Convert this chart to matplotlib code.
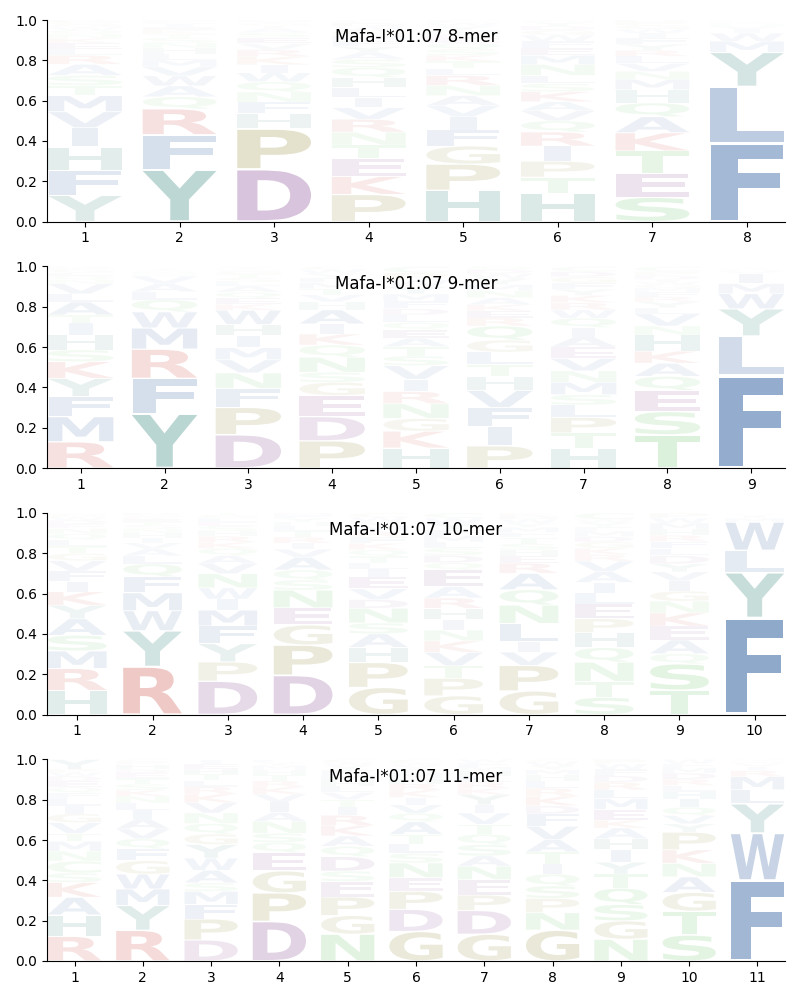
import matplotlib
matplotlib.use('Agg')
import matplotlib.pyplot as plt
from matplotlib.textpath import TextPath
from matplotlib.patches import PathPatch
from matplotlib.font_manager import FontProperties
from matplotlib.transforms import Affine2D
import numpy as np

allele = "Mafa-I*01:07"

# letters listed bottom -> top for each position, frequencies in same order
mer8_letters = [
    "YFHIVMTSARLEKNQWGPD",
    "YFRQAWVMLHNSTKEIGP",
    "DPHFNQWIKRVESATGYM",
    "PKETNRVILHQSAYFMGWDC",
    "HPGFIVANRLTKSQEDMYWC",
    "HTPIRQVAKSLNMEFWGDYC",
    "SETKAQHMNVLRYFIWGPD",
    "FLYMWIVHKRTN",
]
mer8_freqs = [
    [.13, .125, .115, .095, .08, .08, .05, .05, .055, .045, .03, .03, .025, .02, .02, .015, .015, .01, .01],
    [.26, .175, .13, .06, .055, .05, .045, .035, .03, .03, .025, .025, .02, .02, .015, .015, .01, .01],
    [.26, .2, .075, .058, .05, .05, .045, .04, .04, .035, .03, .03, .025, .02, .015, .01, .01, .007],
    [.135, .09, .09, .066, .065, .064, .058, .05, .05, .05, .05, .04, .035, .03, .03, .025, .025, .02, .017, .015],
    [.155, .13, .09, .08, .065, .055, .05, .05, .05, .035, .035, .03, .03, .03, .025, .02, .02, .02, .015, .015],
    [.14, .08, .079, .075, .07, .055, .05, .045, .05, .04, .04, .055, .045, .035, .035, .03, .025, .02, .02, .01],
    [.12, .12, .11, .09, .08, .068, .066, .05, .04, .04, .035, .03, .03, .03, .025, .02, .02, .015, .01],
    [.39, .28, .17, .055, .04, .02, .015, .01, .008, .005, .004, .003],
]

mer9_letters = [
    "RMFYKSHITALVNQEGPD",
    "YFRMWQLAVHNSTKE",
    "DPFNVMIHWKEQALSTGCY",
    "PDEGSNQKIAHVTMFYWC",
    "HKGNRIVSTAEQLDFMYWPC",
    "PIFVHTLGQREKANMYWDS",
    "HTPLSMNVEAIQWRKYFGDC",
    "TSEQAKHNVLYRFMGWIDPC",
    "FLYWMIVHKTRN",
]
mer9_freqs = [
    [.13, .125, .1, .09, .083, .058, .075, .058, .04, .065, .04, .05, .02, .02, .015, .015, .01, .006],
    [.27, .175, .145, .105, .08, .06, .04, .04, .035, .01, .01, .01, .01, .005, .005],
    [.165, .135, .093, .078, .065, .06, .06, .055, .07, .03, .03, .03, .03, .02, .02, .02, .015, .01, .012],
    [.135, .12, .105, .065, .05, .075, .06, .055, .05, .07, .04, .035, .03, .03, .025, .02, .02, .015],
    [.095, .08, .06, .07, .058, .058, .065, .045, .045, .04, .04, .035, .035, .03, .035, .035, .035, .03, .035, .03],
    [.11, .095, .095, .085, .07, .06, .06, .06, .07, .04, .035, .03, .035, .035, .03, .03, .025, .02, .015],
    [.095, .075, .075, .06, .05, .06, .055, .06, .055, .05, .045, .045, .04, .035, .035, .03, .03, .03, .025, .025],
    [.165, .115, .105, .07, .065, .06, .08, .045, .06, .03, .03, .025, .025, .02, .015, .015, .01, .02, .02, .025],
    [.46, .195, .135, .075, .05, .05, .012, .008, .006, .004, .003, .002],
]

mer10_letters = [
    "HRMSAYKIFVGTLQNEDWPC",
    "RYWMFQLAVIHNSTEKGD",
    "DPYFMIWNVAQKRHSELGT",
    "DPGENSQAVIRTLHYFM",
    "GPHASNDVEILTQKFRMYWC",
    "GPTVKNIHRAEQDSLMFYWC",
    "GPVILNQAREHSTFMYWDK",
    "STNQHPELIAVRKGDMFYWC",
    "TSQAEKNGIVYDLFRHMWP",
    "FYLWMIVHKR",
]
mer10_freqs = [
    [.115, .107, .085, .075, .08, .065, .065, .05, .05, .05, .035, .035, .03, .03, .025, .02, .02, .015, .01, .01],
    [.24, .18, .1, .09, .08, .065, .04, .035, .03, .025, .025, .02, .02, .015, .015, .01, .01, .01],
    [.165, .095, .09, .088, .078, .055, .055, .07, .05, .04, .035, .03, .03, .025, .025, .02, .02, .015, .01],
    [.195, .15, .1, .085, .088, .05, .05, .063, .04, .03, .03, .03, .025, .02, .02, .015, .01],
    [.125, .115, .07, .063, .05, .068, .04, .05, .055, .035, .03, .03, .03, .03, .03, .025, .025, .02, .02, .02],
    [.09, .085, .06, .065, .055, .052, .05, .055, .05, .055, .08, .035, .035, .035, .03, .03, .03, .03, .025, .025],
    [.115, .125, .065, .05, .09, .09, .075, .08, .05, .035, .03, .03, .03, .025, .025, .02, .02, .015, .015],
    [.08, .075, .09, .068, .07, .065, .07, .05, .05, .05, .05, .03, .03, .03, .025, .025, .02, .02, .015, .03],
    [.12, .13, .05, .068, .068, .065, .058, .05, .05, .045, .04, .04, .035, .035, .03, .03, .03, .025, .025],
    [.48, .225, .11, .14, .02, .01, .008, .005, .001, .001],
]

mer11_letters = [
    "RHAKSCNMTVGILFQEDWPY",
    "RYMWGFQVAILNKSTEDHPC",
    "DPFMSAWYGQNVKRLTHEI",
    "DPGEQSNAIVKRTHMYF",
    "NGPESDQAKRITVLHMFYWC",
    "GDPENSLTAQVIKRHMFYWC",
    "GDPENASQTVIYKRLHMFW",
    "GNPSQITAVFDKRLHMYWC",
    "NGSQTYIHAKEMLRDFWP",
    "STGANKPYVQIHLRDMFW",
    "FWYLMRIVHTN",
]
mer11_freqs = [
    [.125, .108, .09, .075, .048, .06, .05, .05, .04, .055, .045, .04, .035, .03, .03, .03, .025, .02, .015, .05],
    [.155, .125, .083, .075, .068, .06, .05, .05, .05, .045, .035, .035, .03, .03, .03, .025, .02, .025, .015, .01],
    [.1, .1, .07, .062, .04, .06, .058, .065, .05, .05, .05, .05, .04, .035, .03, .03, .025, .025, .02],
    [.195, .14, .108, .09, .05, .045, .058, .045, .05, .04, .035, .03, .03, .025, .02, .015, .015],
    [.13, .09, .09, .075, .05, .07, .05, .05, .05, .05, .04, .035, .035, .03, .03, .025, .025, .02, .015, .015],
    [.14, .105, .085, .065, .07, .045, .045, .045, .06, .04, .04, .035, .035, .03, .025, .025, .02, .015, .01, .02],
    [.13, .115, .075, .075, .065, .05, .055, .05, .048, .055, .04, .05, .03, .03, .03, .025, .02, .02, .015],
    [.15, .085, .07, .06, .058, .05, .058, .06, .065, .06, .04, .045, .04, .035, .03, .025, .02, .02, .01],
    [.1, .085, .075, .075, .065, .055, .058, .05, .05, .035, .05, .05, .04, .035, .03, .03, .025, .02],
    [.125, .115, .09, .075, .065, .065, .085, .04, .04, .04, .04, .035, .03, .03, .03, .025, .02, .02],
    [.40, .235, .145, .07, .065, .03, .02, .015, .01, .005, .005],
]

panels = [
    (8, mer8_letters, mer8_freqs),
    (9, mer9_letters, mer9_freqs),
    (10, mer10_letters, mer10_freqs),
    (11, mer11_letters, mer11_freqs),
]

# base colours, drawn with alpha = frequency
blue = '#164b94'
teal = '#00695a'
purple = '#691c78'
red = '#c01e14'
olive = '#786e00'
green = '#28aa28'
colors = {}
for aa in "AVLIMFW":
    colors[aa] = blue
for aa in "YH":
    colors[aa] = teal
for aa in "DE":
    colors[aa] = purple
for aa in "KR":
    colors[aa] = red
for aa in "PG":
    colors[aa] = olive
for aa in "STNQC":
    colors[aa] = green

FP = FontProperties(family='DejaVu Sans', weight='bold')
WIDTH = 0.78
VPAD = 0.05
E_BOX = TextPath((0, 0), 'E', size=1, prop=FP).get_extents()


def draw_glyph(ax, ch, x, floor, h):
    tp = TextPath((0, 0), ch, size=1, prop=FP)
    bb = tp.get_extents()
    sx = min(WIDTH / bb.width, WIDTH / E_BOX.width)
    sy = h * (1 - VPAD) / bb.height
    w = bb.width * sx
    t = Affine2D().translate(-bb.x0, -bb.y0).scale(sx, sy).translate(x - w / 2, floor + h * VPAD / 2)
    ax.add_patch(PathPatch(t.transform_path(tp), facecolor=colors[ch],
                           edgecolor='none', lw=0, alpha=min(1.0, h)))


fig, axes = plt.subplots(4, 1, figsize=(8, 10), dpi=100)
plt.subplots_adjust(left=0.059, right=0.981, top=0.98, bottom=0.039, hspace=0.223)

for ax, (n, letters, freqs) in zip(axes, panels):
    for pos in range(n):
        vals = np.array(freqs[pos], dtype=float)
        vals = vals / vals.sum()
        floor = 0.0
        for ch, v in zip(letters[pos], vals):
            draw_glyph(ax, ch, pos + 1, floor, v)
            floor += v
    ax.set_xlim(0.6, n + 0.4)
    ax.set_ylim(0, 1)
    ax.set_xticks(range(1, n + 1))
    ax.set_yticks([0, 0.2, 0.4, 0.6, 0.8, 1.0])
    ax.spines['top'].set_visible(False)
    ax.spines['right'].set_visible(False)
    ax.text(0.5, 0.915, f"{allele} {n}-mer", transform=ax.transAxes,
            ha='center', va='center', fontsize=12)

fig.savefig('out.png', dpi=100)
